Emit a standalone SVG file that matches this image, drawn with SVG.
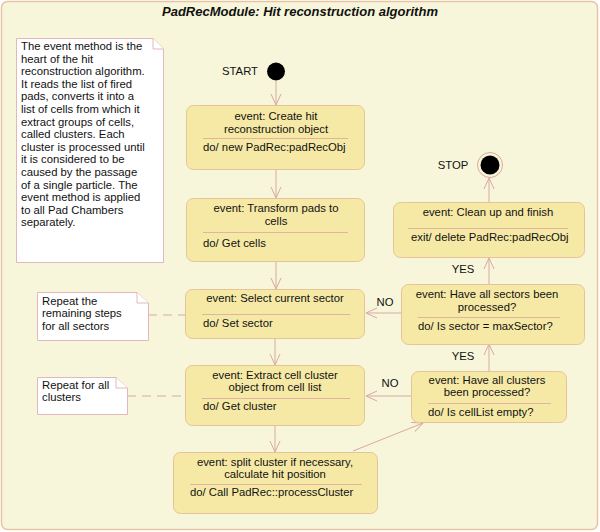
<svg xmlns="http://www.w3.org/2000/svg" width="600" height="532" viewBox="0 0 600 532">
<defs>
<style>
text{font-family:"Liberation Sans",Arial,sans-serif;font-size:11.3px;fill:#111}
.st{fill:#f6e9a6;stroke:#e6c49a;stroke-width:1}
.sep{stroke:#e0b4a0;stroke-width:1}
.note{fill:#ffffff;stroke:#e2b8bc;stroke-width:1}
.con{fill:none;stroke:#d9a8a4;stroke-width:1}
.dash{fill:none;stroke:#d9a8a4;stroke-width:1;stroke-dasharray:9 6}
.c{text-anchor:middle}
</style>
<marker id="ah" viewBox="0 0 12 12" refX="11" refY="6" markerWidth="12" markerHeight="12" markerUnits="userSpaceOnUse" orient="auto">
<path d="M0,1 L11,6 L0,11" fill="none" stroke="#d9a8a4" stroke-width="1"/>
</marker>
</defs>
<rect x="1.5" y="1.5" width="596" height="528" rx="6" fill="#f8f6da" stroke="#e6c4a4" stroke-width="1.5"/>
<text x="300" y="15.5" class="c" style="font-size:13px;font-weight:bold;font-style:italic">PadRecModule: Hit reconstruction algorithm</text>

<g id="connectors">
<line class="con" x1="276" y1="81" x2="276" y2="105" marker-end="url(#ah)"/>
<line class="con" x1="276" y1="170" x2="276" y2="198" marker-end="url(#ah)"/>
<line class="con" x1="276" y1="262" x2="276" y2="289" marker-end="url(#ah)"/>
<line class="con" x1="275" y1="339" x2="275" y2="365" marker-end="url(#ah)"/>
<line class="con" x1="275" y1="426" x2="275" y2="452" marker-end="url(#ah)"/>
<line class="con" x1="353" y1="451" x2="423" y2="423" marker-end="url(#ah)"/>
<line class="con" x1="411" y1="396" x2="366" y2="396" marker-end="url(#ah)"/>
<line class="con" x1="401" y1="313" x2="366" y2="313" marker-end="url(#ah)"/>
<line class="con" x1="489" y1="371" x2="489" y2="344" marker-end="url(#ah)"/>
<line class="con" x1="489" y1="284" x2="489" y2="258" marker-end="url(#ah)"/>
<line class="con" x1="489" y1="202" x2="489" y2="178" marker-end="url(#ah)"/>
<line class="dash" x1="148" y1="315" x2="185" y2="315"/>
<line class="dash" x1="127" y1="396" x2="185" y2="396"/>
<text x="390" y="387" class="c">NO</text>
<text x="385" y="306" class="c">NO</text>
<text x="463" y="360" class="c">YES</text>
<text x="463" y="273" class="c">YES</text>
</g>

<g id="note-main">
<path class="note" d="M16.5,38.5 H153 L163.5,49 V262.5 H16.5 Z"/>
<path class="note" d="M153,38.5 V49 H163.5" fill="none"/>
<text x="21" y="50">The event method is the</text>
<text x="21" y="62.6">heart of the hit</text>
<text x="21" y="75.2">reconstruction algorithm.</text>
<text x="21" y="87.8">It reads the list of fired</text>
<text x="21" y="100.4">pads, converts it into a</text>
<text x="21" y="113">list of cells from which it</text>
<text x="21" y="125.6">extract groups of cells,</text>
<text x="21" y="138.2">called clusters. Each</text>
<text x="21" y="150.8">cluster is processed until</text>
<text x="21" y="163.4">it is considered to be</text>
<text x="21" y="176">caused by the passage</text>
<text x="21" y="188.6">of a single particle. The</text>
<text x="21" y="201.2">event method is applied</text>
<text x="21" y="213.8">to all Pad Chambers</text>
<text x="21" y="226.4">separately.</text>
</g>

<g id="start">
<circle cx="276" cy="71.5" r="9" fill="#000"/>
<text x="240" y="75" class="c">START</text>
</g>

<g id="create">
<rect class="st" x="186.5" y="105.5" width="178" height="64" rx="7"/>
<text x="276" y="120" class="c">event: Create hit</text>
<text x="276" y="132.5" class="c">reconstruction object</text>
<line class="sep" x1="203" y1="138.5" x2="348" y2="138.5"/>
<text x="203" y="151">do/ new PadRec:padRecObj</text>
</g>

<g id="transform">
<rect class="st" x="186.5" y="198.5" width="178" height="63" rx="7"/>
<text x="276" y="212" class="c">event: Transform pads to</text>
<text x="276" y="224.5" class="c">cells</text>
<line class="sep" x1="203" y1="232.5" x2="348" y2="232.5"/>
<text x="203" y="247">do/ Get cells</text>
</g>

<g id="select">
<rect class="st" x="185.5" y="289.5" width="179" height="49" rx="7"/>
<text x="275" y="302" class="c">event: Select current sector</text>
<line class="sep" x1="202" y1="314.5" x2="350" y2="314.5"/>
<text x="203" y="327">do/ Set sector</text>
</g>

<g id="extract">
<rect class="st" x="185.5" y="365.5" width="179" height="60" rx="7"/>
<text x="275" y="379" class="c">event: Extract cell cluster</text>
<text x="275" y="391" class="c">object from cell list</text>
<line class="sep" x1="202" y1="398.5" x2="350" y2="398.5"/>
<text x="203" y="410">do/ Get cluster</text>
</g>

<g id="split">
<rect class="st" x="173.5" y="452.5" width="204" height="61" rx="7"/>
<text x="275" y="466" class="c">event: split cluster if necessary,</text>
<text x="275" y="477.5" class="c">calculate hit position</text>
<line class="sep" x1="190" y1="484.5" x2="362" y2="484.5"/>
<text x="190" y="496">do/ Call PadRec::processCluster</text>
</g>

<g id="clusters">
<rect class="st" x="411.5" y="371.5" width="155" height="51" rx="7"/>
<text x="487" y="384" class="c">event: Have all clusters</text>
<text x="487" y="396" class="c">been processed?</text>
<line class="sep" x1="428" y1="403.5" x2="551" y2="403.5"/>
<text x="428" y="416">do/ Is cellList empty?</text>
</g>

<g id="sectors">
<rect class="st" x="401.5" y="284.5" width="183" height="60" rx="7"/>
<text x="487" y="298" class="c">event: Have all sectors been</text>
<text x="487" y="311" class="c">processed?</text>
<line class="sep" x1="418" y1="317.5" x2="560" y2="317.5"/>
<text x="418" y="330">do/ Is sector = maxSector?</text>
</g>

<g id="cleanup">
<rect class="st" x="393.5" y="202.5" width="191" height="55" rx="7"/>
<text x="488" y="216" class="c">event: Clean up and finish</text>
<line class="sep" x1="408" y1="228.5" x2="568" y2="228.5"/>
<text x="411" y="241">exit/ delete PadRec:padRecObj</text>
</g>

<g id="stop">
<circle cx="490" cy="165" r="12.5" fill="none" stroke="#d9a8a4" stroke-width="1"/>
<circle cx="490" cy="165" r="9.5" fill="#000"/>
<text x="453" y="169" class="c">STOP</text>
</g>

<g id="note-sectors">
<path class="note" d="M37.5,292.5 H137 L148.5,303 V340.5 H37.5 Z"/>
<path class="note" d="M137,292.5 V303 H148.5" fill="none"/>
<text x="42" y="304.5">Repeat the</text>
<text x="42" y="317">remaining steps</text>
<text x="42" y="329.5">for all sectors</text>
</g>

<g id="note-clusters">
<path class="note" d="M37.5,377.5 H116 L127.5,388 V414.5 H37.5 Z"/>
<path class="note" d="M116,377.5 V388 H127.5" fill="none"/>
<text x="42" y="389">Repeat for all</text>
<text x="42" y="401">clusters</text>
</g>
</svg>
